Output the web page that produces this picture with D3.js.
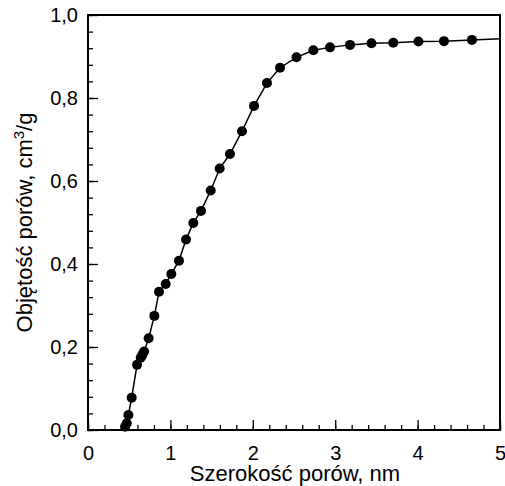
<!DOCTYPE html>
<html>
<head>
<meta charset="utf-8">
<script src="https://cdn.jsdelivr.net/npm/d3@7/dist/d3.min.js"></script>
<style>
  body { margin: 0; background: #fff; }
  text { font-family: "Liberation Sans", Arial, sans-serif; fill: #000; }
</style>
</head>
<body>
<script>
var width = 505;
var height = 486;

var margin = { top: 15, right: 5, bottom: 56, left: 88 };

var graphWidth = width - margin.left - margin.right;
var graphHeight = height - margin.top - margin.bottom;

// pore width (nm) and cumulative pore volume (cm3/g)
var poreWidth = [0.45, 0.47, 0.49, 0.53, 0.595, 0.64, 0.66, 0.68, 0.736, 0.805, 0.862, 0.943,
                 1.011, 1.104, 1.19, 1.278, 1.371, 1.489, 1.598, 1.723, 1.869, 2.015, 2.172,
                 2.33, 2.53, 2.735, 2.937, 3.18, 3.44, 3.705, 4.01, 4.32, 4.66];
var poreVolume = [0.008, 0.016, 0.036, 0.078, 0.157, 0.174, 0.181, 0.189, 0.221, 0.275, 0.333, 0.352,
                  0.376, 0.408, 0.459, 0.499, 0.528, 0.577, 0.630, 0.665, 0.720, 0.781, 0.836,
                  0.873, 0.898, 0.915, 0.922, 0.928, 0.932, 0.933, 0.936, 0.937, 0.940];

// the drawn curve starts at the axis and runs on to the right frame
var curveStart = [0.455, 0];
var curveEnd = [5, 0.943];

var xTicks = [0, 1, 2, 3, 4, 5];
var xTickLabels = ["0", "1", "2", "3", "4", "5"];
var yTicks = [0, 0.2, 0.4, 0.6, 0.8, 1.0];
var yTickLabels = ["0,0", "0,2", "0,4", "0,6", "0,8", "1,0"];

var svg = d3.select("body")
            .append("svg")
            .attr("width", width)
            .attr("height", height);

var graphGroup = svg.append("g").attr("transform", `translate(${margin.left}, ${margin.top})`);

var xScale = d3.scaleLinear().domain([0, 5]).range([0, graphWidth]);
var yScale = d3.scaleLinear().domain([0, 1]).range([graphHeight, 0]);

// minor ticks
graphGroup.append("g")
          .attr("transform", `translate(0, ${graphHeight})`)
          .call(d3.axisBottom(xScale).tickValues(d3.range(0, 5.001, 0.2)).tickSizeInner(-5).tickSizeOuter(0).tickFormat(""));
graphGroup.append("g")
          .call(d3.axisLeft(yScale).tickValues(d3.range(0, 1.001, 0.04)).tickSizeInner(-5).tickSizeOuter(0).tickFormat(""));

// major ticks with labels
var xAxis = d3.axisBottom(xScale)
              .tickValues(xTicks)
              .tickSizeInner(-10)
              .tickSizeOuter(0)
              .tickPadding(16)
              .tickFormat(function(d, i) { return xTickLabels[i]; });
var yAxis = d3.axisLeft(yScale)
              .tickValues(yTicks)
              .tickSizeInner(-10)
              .tickSizeOuter(0)
              .tickPadding(10)
              .tickFormat(function(d, i) { return yTickLabels[i]; });

graphGroup.append("g")
          .attr("transform", `translate(0, ${graphHeight})`)
          .call(xAxis);
graphGroup.append("g")
          .call(yAxis);

graphGroup.selectAll(".tick text").style("font-size", "20px");
graphGroup.selectAll(".domain").remove();
graphGroup.selectAll(".tick line").attr("stroke", "#000").attr("stroke-width", 1.3);

// frame
graphGroup.append("rect")
          .attr("x", 0)
          .attr("y", 0)
          .attr("width", graphWidth)
          .attr("height", graphHeight)
          .attr("fill", "none")
          .attr("stroke", "#000")
          .attr("stroke-width", 2);

// curve through the points
var points = poreWidth.map(function(d, i) { return [d, poreVolume[i]]; });
var curvePoints = [curveStart].concat(points, [curveEnd]);

var line = d3.line()
             .x(function(d) { return xScale(d[0]); })
             .y(function(d) { return yScale(d[1]); });

graphGroup.append("path")
          .datum(curvePoints)
          .attr("d", line)
          .attr("fill", "none")
          .attr("stroke", "#000")
          .attr("stroke-width", 1.5);

graphGroup.selectAll("circle")
          .data(points)
          .enter()
          .append("circle")
          .attr("cx", function(d) { return xScale(d[0]); })
          .attr("cy", function(d) { return yScale(d[1]); })
          .attr("r", 5)
          .attr("fill", "#000");

// axis labels
svg.append("text")
   .attr("x", 295)
   .attr("y", 481)
   .attr("text-anchor", "middle")
   .style("font-size", "22px")
   .text("Szerokość porów, nm");

var yLabel = svg.append("text")
                .attr("transform", `translate(32, ${margin.top + graphHeight / 2}) rotate(-90)`)
                .attr("text-anchor", "middle")
                .style("font-size", "22px");
yLabel.append("tspan").text("Objętość porów, cm");
yLabel.append("tspan").attr("dy", -8).style("font-size", "15px").text("3");
yLabel.append("tspan").attr("dy", 8).text("/g");
</script>
</body>
</html>
